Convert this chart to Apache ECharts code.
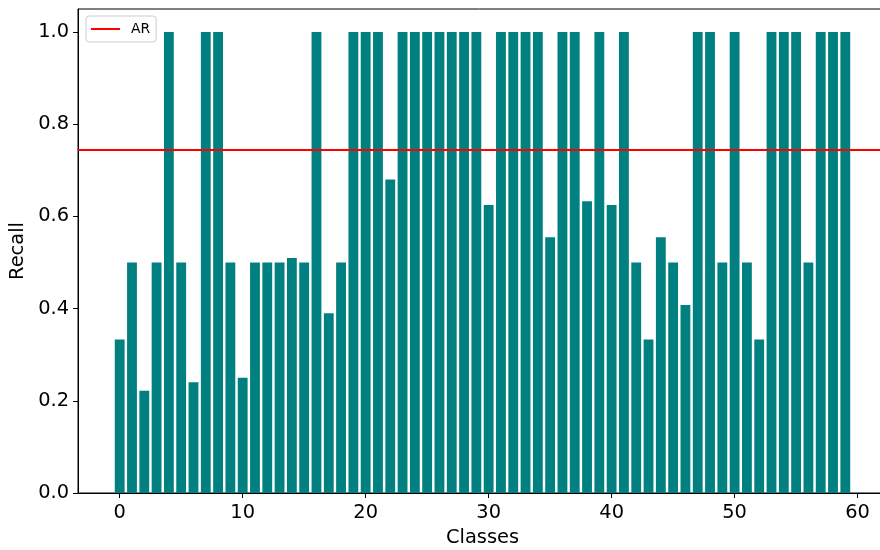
<!DOCTYPE html>
<html>
<head>
<meta charset="utf-8">
<script src="https://cdn.jsdelivr.net/npm/echarts@6/dist/echarts.min.js"></script>
<style>html,body{margin:0;padding:0;background:#fff;}#chart{width:880px;height:550px;}</style>
</head>
<body>
<div id="chart"></div>
<script>
const classes = [0,1,2,3,4,5,6,7,8,9,10,11,12,13,14,15,16,17,18,19,20,21,22,23,24,25,26,27,28,29,30,31,32,33,34,35,36,37,38,39,40,41,42,43,44,45,46,47,48,49,50,51,52,53,54,55,56,57,58,59];
const recall = [0.333,0.5,0.222,0.5,1,0.5,0.24,1,1,0.5,
                0.25,0.5,0.5,0.5,0.51,0.5,1,0.39,0.5,1,
                1,1,0.68,1,1,1,1,1,1,1,
                0.625,1,1,1,1,0.555,1,1,0.633,1,
                0.625,1,0.5,0.333,0.555,0.5,0.408,1,1,0.5,
                1,0.5,0.333,1,1,1,0.5,1,1,1];
const arValue = [0.745];
const xTicks = [0,10,20,30,40,50,60];
const yTicks = [0,0.2,0.4,0.6,0.8,1.0];
const yTickLabels = ['0.0','0.2','0.4','0.6','0.8','1.0'];

const font = 'DejaVu Sans';
const chart = echarts.init(document.getElementById('chart'), null, {renderer: 'canvas'});
chart.setOption({
  animation: false,
  backgroundColor: '#ffffff',
  grid: {left: 78, width: 809, top: 9, height: 484, containLabel: false, outerBoundsMode: 'none',
         show: true, borderColor: '#000', borderWidth: 1, backgroundColor: 'transparent'},
  legend: {
    left: 86, top: 16,
    data: [{name: 'AR', icon: 'rect'}],
    itemWidth: 29, itemHeight: 2,
    padding: [6, 6, 6, 5],
    backgroundColor: 'rgba(255,255,255,0.8)',
    borderColor: '#cccccc', borderWidth: 1, borderRadius: 3,
    textStyle: {fontFamily: font, fontSize: 13.9, color: '#000', padding: [0, 0, 0, 6]}
  },
  xAxis: {
    type: 'value', min: -3.39, max: 62.39,
    name: 'Classes', nameLocation: 'middle', nameGap: 35,
    nameTextStyle: {fontFamily: font, fontSize: 19.4, color: '#000', verticalAlign: 'top'},
    axisLine: {show: true, onZero: false, lineStyle: {color: '#000', width: 1}},
    axisTick: {show: true, length: 5, lineStyle: {color: '#000', width: 1}, customValues: xTicks},
    axisLabel: {fontFamily: font, fontSize: 19.4, color: '#000', margin: 10, customValues: xTicks},
    splitLine: {show: false}
  },
  yAxis: {
    type: 'value', min: 0, max: 1.05,
    name: 'Recall', nameLocation: 'middle', nameGap: 46,
    nameTextStyle: {fontFamily: font, fontSize: 19.4, color: '#000'},
    axisLine: {show: true, onZero: false, lineStyle: {color: '#000', width: 1}},
    axisTick: {show: true, length: 5, lineStyle: {color: '#000', width: 1}, customValues: yTicks},
    axisLabel: {fontFamily: font, fontSize: 19.4, color: '#000', margin: 9, customValues: yTicks,
      formatter: function (v) { const i = yTicks.findIndex(t => Math.abs(t - v) < 1e-9); return i >= 0 ? yTickLabels[i] : ''; }},
    splitLine: {show: false}
  },
  series: [
    {
      name: 'Recall', type: 'bar', barWidth: 9.84,
      itemStyle: {color: '#008080'},
      data: classes.map((c, i) => [c, recall[i]])
    },
    {
      name: 'AR', type: 'line', data: [],
      color: '#ff0000',
      lineStyle: {color: '#ff0000', width: 2},
      itemStyle: {color: '#ff0000'},
      markLine: {
        silent: true, symbol: ['none', 'none'], precision: 4,
        label: {show: false},
        lineStyle: {color: '#ff0000', width: 2, type: 'solid'},
        data: [{yAxis: arValue[0]}]
      }
    }
  ]
});
</script>
</body>
</html>
